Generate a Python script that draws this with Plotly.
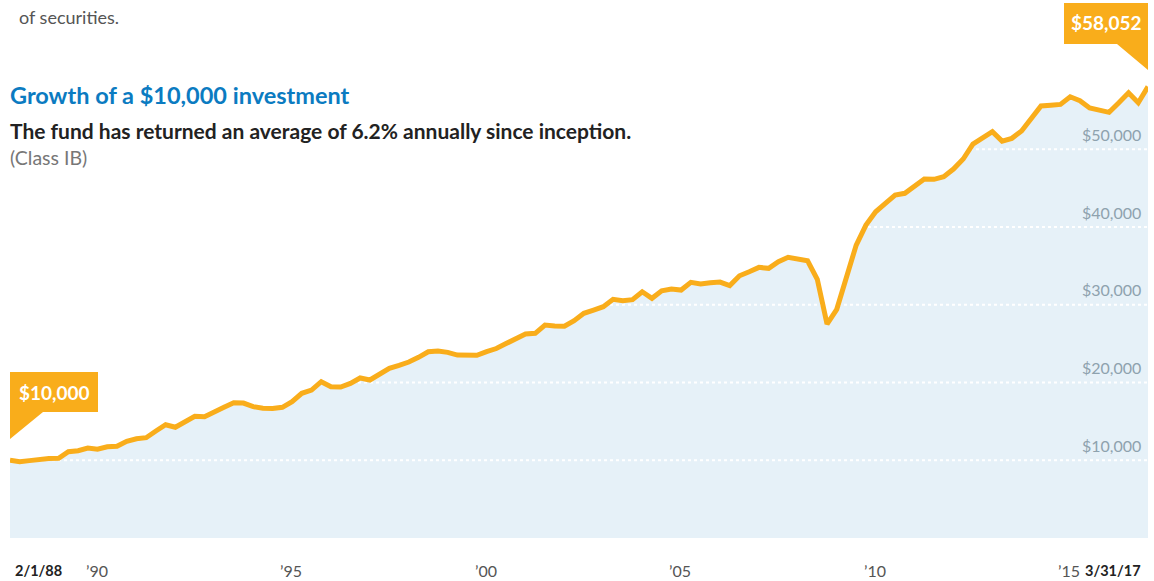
import pandas as pd
import plotly.graph_objects as go

# ---- data -------------------------------------------------------------
# First value is the inception date, then quarter-end valuations.
quarter_ends = pd.date_range("1988-03-31", "2017-03-31", freq="QE")
dates = ["1988-02-01"] + [d.strftime("%Y-%m-%d") for d in quarter_ends]

growth = [
    10000, 9810, 9950, 10160, 10210, 10250, 11100, 11230, 11570, 11410,
    11740, 11790, 12440, 12770, 12900, 13760, 14570, 14240, 14880, 15650,
    15600, 16290, 16810, 17400, 17350, 16890, 16680, 16650, 16810, 17530,
    18610, 19030, 20100, 19460, 19420, 19890, 20580, 20320, 21090, 21820,
    22210, 22630, 23240, 23960, 24050, 23880, 23530, 23570, 23500, 23980,
    24370, 25010, 25590, 26230, 26320, 27390, 27260, 27250, 27950, 28900,
    29320, 29750, 30700, 30520, 30650, 31670, 30830, 31800, 32020, 31890,
    32880, 32660, 32830, 32920, 32470, 33730, 34250, 34810, 34680, 35530,
    36100, 35880, 35660, 33270, 27520, 29410, 33600, 37680, 40250, 41960,
    43040, 44110, 44330, 45270, 46170, 46130, 46460, 47450, 48740, 50670,
    51530, 52250, 51050, 51400, 52340, 53970, 55560, 55660, 55770, 56750,
    56240, 55300, 54950, 54750, 55980, 57270, 55980, 58052,
]

y_ticks = [10000, 20000, 30000, 40000, 50000]
x_tick_dates = ["1989-12-31", "1994-12-31", "1999-12-31", "2004-12-31",
                "2009-12-31", "2014-12-31"]
x_tick_text = ["\u201990", "\u201995", "\u201900", "\u201905", "\u201910", "\u201915"]

# ---- style ------------------------------------------------------------
FONT = "Lato, 'Source Sans Pro', 'Open Sans', sans-serif"
GOLD = "#f9ad1b"
FILL = "#e6f1f8"
BLUE = "#0b7bc1"
TICK_GRAY = "#8ea2ae"

W, H = 1154, 581
ML, MR, MT, MB = 10, 6, 0, 43
PW, PH = W - ML - MR, H - MT - MB


def px(x):
    return (x - ML) / PW


def py(y):
    return (H - MB - y) / PH


fig = go.Figure()

# shaded area under the growth line
fig.add_trace(go.Scatter(
    x=dates, y=growth, mode="lines", line=dict(width=0, color=FILL),
    fill="tozeroy", fillcolor=FILL, hoverinfo="skip", showlegend=False,
))

# dotted white reference lines drawn over the shading
for v in y_ticks:
    fig.add_trace(go.Scatter(
        x=[dates[0], dates[-1]], y=[v, v], mode="lines",
        line=dict(color="white", width=2, dash="dot"),
        hoverinfo="skip", showlegend=False,
    ))

# growth line
fig.add_trace(go.Scatter(
    x=dates, y=growth, mode="lines",
    line=dict(color=GOLD, width=5),
    showlegend=False,
))

annotations = []

# y-axis value labels, right-aligned just above each dotted line
for v in y_ticks:
    annotations.append(dict(
        x=1, xref="paper", xanchor="right", xshift=-5,
        y=v, yref="y", yanchor="middle", yshift=15,
        text=f"${v:,}", showarrow=False,
        font=dict(family=FONT, size=16, color=TICK_GRAY),
    ))

# x-axis year labels
for d, t in zip(x_tick_dates, x_tick_text):
    annotations.append(dict(
        x=d, xref="x", xanchor="left", xshift=-4,
        y=py(570), yref="paper", yanchor="middle",
        text=t, showarrow=False,
        font=dict(family=FONT, size=16, color="#555555"),
    ))

annotations.append(dict(
    x=px(13), xref="paper", xanchor="left",
    y=py(570), yref="paper", yanchor="middle",
    text="<b>2/1/88</b>", showarrow=False,
    font=dict(family=FONT, size=14.5, color="#222222"),
))
annotations.append(dict(
    x=px(1143), xref="paper", xanchor="right",
    y=py(570), yref="paper", yanchor="middle",
    text="<b>3/31/17</b>", showarrow=False,
    font=dict(family=FONT, size=14.5, color="#222222"),
))

# headings
annotations += [
    dict(x=px(17), xref="paper", xanchor="left", y=py(17), yref="paper",
         yanchor="middle", text="of securities.", showarrow=False,
         font=dict(family=FONT, size=18, color="#555555")),
    dict(x=px(8), xref="paper", xanchor="left", y=py(95), yref="paper",
         yanchor="middle", text="<b>Growth of a $10,000 investment</b>",
         showarrow=False, font=dict(family=FONT, size=23.5, color=BLUE)),
    dict(x=px(8), xref="paper", xanchor="left", y=py(131), yref="paper",
         yanchor="middle",
         text="<b>The fund has returned an average of 6.2% annually since inception.</b>",
         showarrow=False, font=dict(family=FONT, size=21, color="#222222")),
    dict(x=px(8), xref="paper", xanchor="left", y=py(157), yref="paper",
         yanchor="middle", text="(Class IB)", showarrow=False,
         font=dict(family=FONT, size=19.5, color="#777777")),
]

# start / end value callouts
annotations += [
    dict(x=px(54), xref="paper", xanchor="center", y=py(392), yref="paper",
         yanchor="middle", text=f"<b>${growth[0]:,}</b>", showarrow=False,
         font=dict(family=FONT, size=19, color="white")),
    dict(x=px(1106), xref="paper", xanchor="center", y=py(23), yref="paper",
         yanchor="middle", text=f"<b>${growth[-1]:,}</b>", showarrow=False,
         font=dict(family=FONT, size=19, color="white")),
]


def poly(points):
    return "M " + " L ".join(f"{px(x):.5f},{py(y):.5f}" for x, y in points) + " Z"


shapes = [
    dict(type="path", xref="paper", yref="paper", layer="above",
         path=poly([(10, 372), (98, 372), (98, 412), (43, 412), (10, 439)]),
         fillcolor=GOLD, line=dict(width=0)),
    dict(type="path", xref="paper", yref="paper", layer="above",
         path=poly([(1064, 3), (1148, 3), (1148, 70), (1117, 44), (1064, 44)]),
         fillcolor=GOLD, line=dict(width=0)),
]

fig.update_layout(
    width=W, height=H,
    margin=dict(l=ML, r=MR, t=MT, b=MB, pad=0),
    paper_bgcolor="white", plot_bgcolor="white",
    font=dict(family=FONT),
    xaxis=dict(type="category", range=[0, len(dates) - 1],
               showgrid=False, zeroline=False, showline=False,
               showticklabels=False, ticks="", fixedrange=True),
    yaxis=dict(range=[0, PH / 77.75 * 10000], showgrid=False,
               zeroline=False, showline=False, showticklabels=False,
               ticks="", fixedrange=True),
    annotations=annotations,
    shapes=shapes,
    showlegend=False,
)

fig.write_html("out.html")
